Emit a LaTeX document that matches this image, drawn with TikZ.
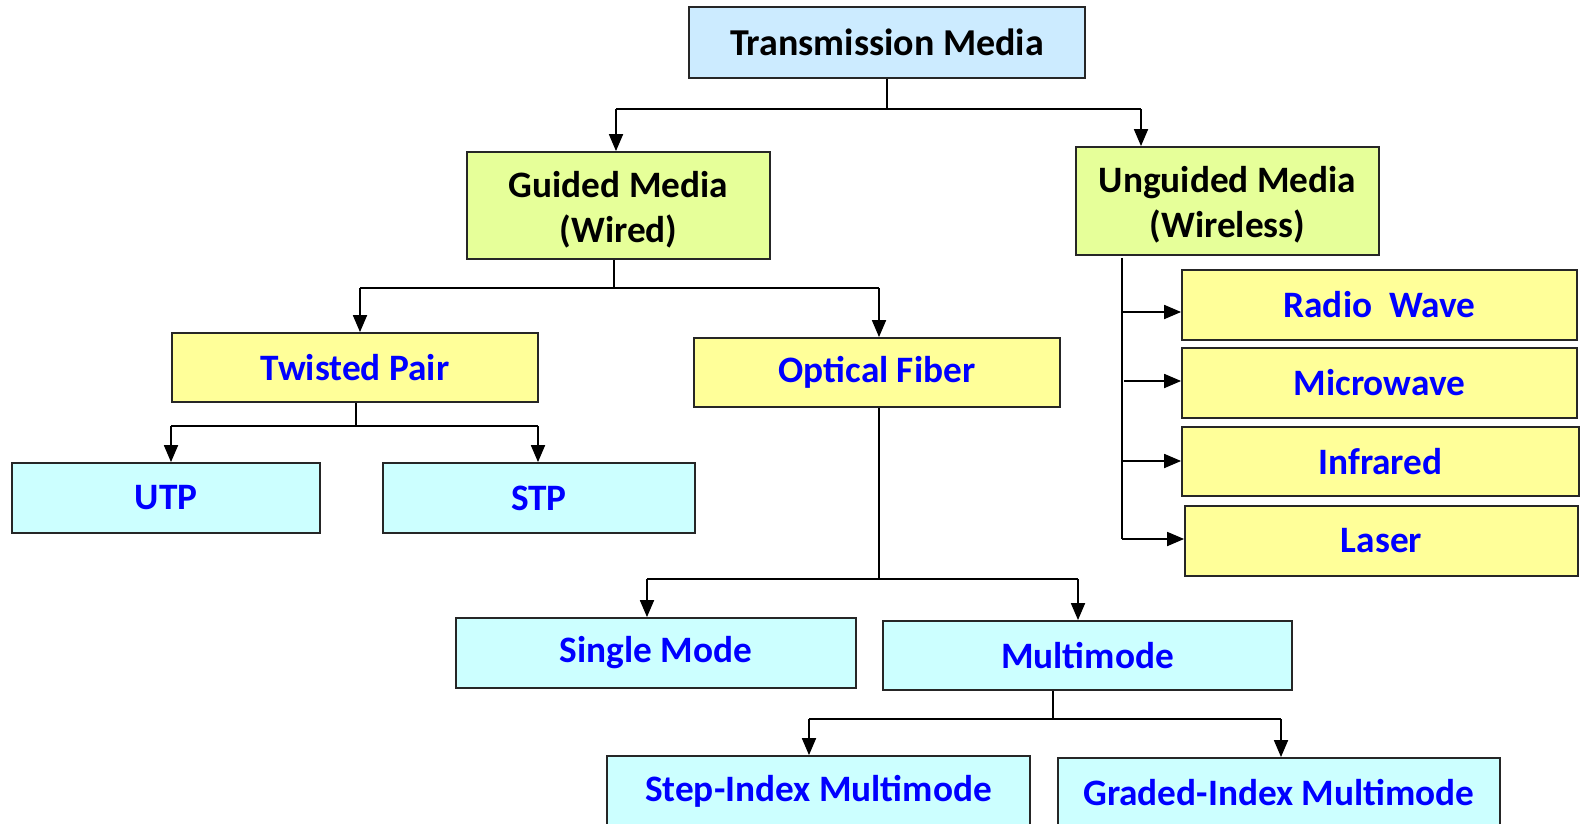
\documentclass[tikz,border=0pt]{standalone}
\usepackage{fontspec}
\setmainfont{Carlito}
\usetikzlibrary{arrows.meta}
\definecolor{tmfill}{HTML}{CCEBFF}
\definecolor{gfill}{HTML}{E6FF99}
\definecolor{yfill}{HTML}{FFFF99}
\definecolor{cfill}{HTML}{CCFFFF}
\definecolor{txtblue}{HTML}{0000FF}
\tikzset{
  box/.style={draw=black!85, line width=1.8pt, inner sep=0pt, align=center,
    font=\bfseries\fontsize{37.3}{45}\selectfont},
  topbox/.style={box, fill=tmfill, text=black},
  grnbox/.style={box, fill=gfill, text=black},
  grntext/.style={inner sep=0pt, align=center, text=black,
    font=\bfseries\fontsize{37.3}{45}\selectfont},
  ylwbox/.style={box, fill=yfill, text=txtblue},
  cynbox/.style={box, fill=cfill, text=txtblue},
  conn/.style={line width=1.8pt, draw=black},
  arr/.style={conn, -{Triangle[length=17pt,width=14pt]}},
}
\begin{document}
\begin{tikzpicture}[x=1pt,y=-1pt]
\useasboundingbox (0,0) rectangle (1581,823);
\clip (0,0) rectangle (1581,823);
\fill[white] (0,0) rectangle (1581,823);

% nodes
\node[topbox, minimum width=396pt, minimum height=71pt, font=\bfseries\fontsize{38}{45}\selectfont] (tm) at (887,42.5) {Transmission Media};
\node[grnbox, minimum width=303pt, minimum height=107pt] (gm) at (618.5,205.5) {};
\node[grntext] (gmt) at ([yshift=-4pt]gm.center) {Guided Media\\(Wired)};
\node[grnbox, minimum width=303pt, minimum height=108pt] (um) at (1227.5,201) {};
\node[grntext] (umt) at ([yshift=-4pt]um.center) {Unguided Media\\(Wireless)};
\node[ylwbox, minimum width=366pt, minimum height=69pt] (tp) at (355,367.5) {Twisted Pair};
\node[ylwbox, minimum width=366pt, minimum height=69pt] (of) at (877,372.5) {Optical Fiber};
\node[cynbox, minimum width=308pt, minimum height=70pt] (utp) at (166,498) {UTP};
\node[cynbox, minimum width=312pt, minimum height=70pt] (stp) at (539,498) {STP};
\node[cynbox, minimum width=400pt, minimum height=70pt] (sm) at (656,653) {Single Mode};
\node[cynbox, minimum width=409pt, minimum height=69pt] (mm) at (1087.5,655.5) {Multimode};
\node[cynbox, minimum width=423pt, minimum height=70pt] (si) at (818.5,791) {Step-Index Multimode};
\node[cynbox, minimum width=442pt, minimum height=70pt] (gi) at (1279,793) {Graded-Index Multimode};
\node[ylwbox, minimum width=395pt, minimum height=70pt] (rw) at (1379.5,305) {Radio~~Wave};
\node[ylwbox, minimum width=395pt, minimum height=70pt] (mw) at (1379.5,383) {Microwave};
\node[ylwbox, minimum width=397pt, minimum height=69pt] (ir) at (1380.5,461.5) {Infrared};
\node[ylwbox, minimum width=393pt, minimum height=70pt] (la) at (1381.5,541) {Laser};

% junction coordinates
\coordinate (j1) at (887,109);
\coordinate (j1l) at (616,109);
\coordinate (j1r) at (1141,109);
\coordinate (j2) at (614,288);
\coordinate (j2l) at (360,288);
\coordinate (j2r) at (879,288);
\coordinate (j3) at (356,426);
\coordinate (j3l) at (171,426);
\coordinate (j3r) at (538,426);
\coordinate (j4) at (879,579);
\coordinate (j4l) at (647,579);
\coordinate (j4r) at (1078,579);
\coordinate (j5) at (1053,719);
\coordinate (j5l) at (809,719);
\coordinate (j5r) at (1281,719);
\coordinate (w1) at (1122,312);
\coordinate (w2) at (1124,381);
\coordinate (w3) at (1122,461);
\coordinate (w4) at (1122,539);

% connectors
\draw[conn] (tm.south) -- (j1);
\draw[conn] (j1l) -- (j1r);
\draw[arr] (j1l) -- (gm.north -| j1l);
\draw[arr] (j1r) -- (um.north -| j1r);

\draw[conn] (gm.south -| j2) -- (j2);
\draw[conn] (j2l) -- (j2r);
\draw[arr] (j2l) -- (tp.north -| j2l);
\draw[arr] (j2r) -- (of.north -| j2r);

\draw[conn] (tp.south -| j3) -- (j3);
\draw[conn] (j3l) -- (j3r);
\draw[arr] (j3l) -- (utp.north -| j3l);
\draw[arr] (j3r) -- (stp.north -| j3r);

\draw[conn] (of.south -| j4) -- (j4);
\draw[conn] (j4l) -- (j4r);
\draw[arr] (j4l) -- (sm.north -| j4l);
\draw[arr] (j4r) -- (mm.north -| j4r);

\draw[conn] (mm.south -| j5) -- (j5);
\draw[conn] (j5l) -- (j5r);
\draw[arr] (j5l) -- (si.north -| j5l);
\draw[arr] (j5r) -- (gi.north -| j5r);

\draw[conn] ([yshift=-2pt]um.south -| w4) -- (w4);
\draw[arr] (w1) -- (rw.west |- w1);
\draw[arr] (w2) -- (mw.west |- w2);
\draw[arr] (w3) -- (ir.west |- w3);
\draw[arr] (w4) -- (la.west |- w4);
\end{tikzpicture}
\end{document}
